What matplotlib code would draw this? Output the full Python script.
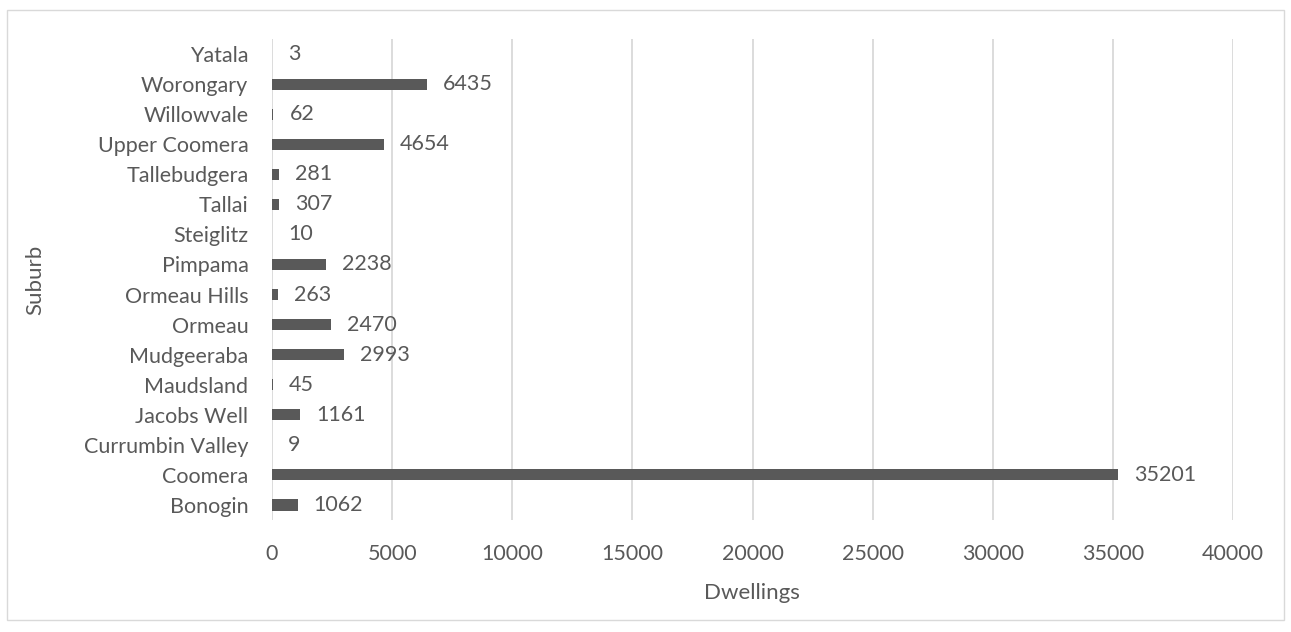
import matplotlib
matplotlib.use("Agg")
import matplotlib.pyplot as plt
from matplotlib.patches import Rectangle

suburbs = ["Bonogin", "Coomera", "Currumbin Valley", "Jacobs Well", "Maudsland",
           "Mudgeeraba", "Ormeau", "Ormeau Hills", "Pimpama", "Steiglitz",
           "Tallai", "Tallebudgera", "Upper Coomera", "Willowvale", "Worongary",
           "Yatala"]
dwellings = [1062, 35201, 9, 1161, 45, 2993, 2470, 263, 2238, 10,
             307, 281, 4654, 62, 6435, 3]
x_ticks = [0, 5000, 10000, 15000, 20000, 25000, 30000, 35000, 40000]

text_col = "#595959"
bar_col = "#595959"
grid_col = "#d9d9d9"

plt.rcParams["font.family"] = ["Lato", "DejaVu Sans"]

W, H = 1291, 632
fig = plt.figure(figsize=(W / 100, H / 100), dpi=100)
fig.patch.set_facecolor("white")

# outer chart frame
fig.add_artist(Rectangle((7 / W, 1 - 620 / H), (1284 - 7) / W, (620 - 10) / H,
                         transform=fig.transFigure, fill=False,
                         edgecolor=grid_col, linewidth=1))

left, right, top, bottom = 272, 1233, 39, 520
ax = fig.add_axes([left / W, 1 - bottom / H, (right - left) / W, (bottom - top) / H])

ypos = list(range(len(suburbs)))
ax.barh(ypos, dwellings, height=0.37, color=bar_col, zorder=3)
ax.set_ylim(-0.5, len(suburbs) - 0.5)
ax.set_xlim(0, 40000)
ax.set_xticks(x_ticks)
ax.set_xticklabels([str(t) for t in x_ticks])
ax.set_yticks(ypos)
ax.set_yticklabels(suburbs)

fs = 15.5
for y, v in zip(ypos, dwellings):
    ax.annotate(str(v), xy=(v, y), xytext=(11.5, 0), textcoords="offset points",
                ha="left", va="center", fontsize=fs, color=text_col, zorder=4)

ax.grid(axis="x", color=grid_col, linewidth=1.3, zorder=0)
ax.set_axisbelow(True)
for s in ax.spines.values():
    s.set_visible(False)
ax.tick_params(axis="both", length=0, labelsize=fs, labelcolor=text_col)
ax.tick_params(axis="y", pad=17)
ax.tick_params(axis="x", pad=17)

# axis titles
fig.text(752 / W, 1 - 593 / H, "Dwellings", fontsize=16, color=text_col,
         ha="center", va="center")
fig.text(35 / W, 1 - 280 / H, "Suburb", fontsize=16, color=text_col,
         ha="center", va="center", rotation=90)

fig.savefig("out.png", dpi=100, facecolor="white")
